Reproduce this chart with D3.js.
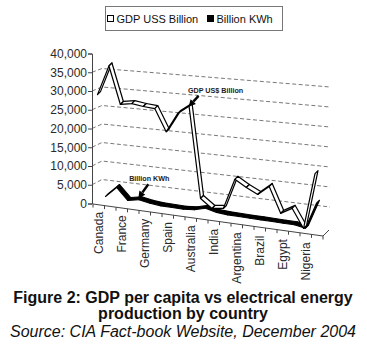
<!DOCTYPE html>
<html>
<head>
<meta charset="utf-8">
<script src="https://cdn.jsdelivr.net/npm/d3@7"></script>
<style>
  body { margin: 0; background: #fff; }
  svg { display: block; font-family: "Liberation Sans", Arial, sans-serif; }
</style>
</head>
<body>
<svg width="367" height="355"></svg>
<script>
// data (only every other country is labelled)
const countries = ["Canada", "United States", "France", "United Kingdom", "Germany", "Italy",
  "Spain", "Japan", "Australia", "China", "India", "Indonesia", "Argentina", "Mexico",
  "Brazil", "South Africa", "Egypt", "Iran", "Nigeria", "Korea"];
const gdp = [30000, 38000, 28100, 28700, 28300, 28100, 22300, 27500, 29800, 5600,
  3300, 3700, 11800, 10000, 8500, 11000, 4200, 5900, 900, 15900];
const kwh = [1070, 3890, 850, 1470, 960, 690, 670, 640, 910, 1760,
  1040, 830, 800, 770, 770, 750, 720, 720, 240, 7330];
const seriesNames = ["GDP USS Billion", "Billion KWh"];
const yTicks = d3.range(0, 40001, 5000);
const gridValues = d3.range(5000, 35001, 5000);

const svg = d3.select("svg");
svg.append("rect").attr("width", 367).attr("height", 355).attr("fill", "#fff");

const n = countries.length;

// value axis (left wall)
const y = d3.scaleLinear().domain([0, 40000]).range([203.5, 53.5]);
const h = (v) => y(0) - y(v);

// back wall gridlines, slanted
const tipY = d3.scaleLinear().domain([0, 40000]).range([198, 50]);
const rightY = d3.scaleLinear().domain([0, 40000]).range([227, 67]);

svg.append("g")
  .selectAll("path")
  .data(gridValues)
  .enter()
  .append("path")
  .attr("d", (d) => `M92,${y(d)}L102,${tipY(d)}L330,${rightY(d)}`)
  .attr("fill", "none")
  .attr("stroke", "#555")
  .attr("stroke-width", 0.8)
  .attr("stroke-dasharray", "4,2.5");

const yAxis = svg.append("g")
  .attr("transform", "translate(92,0)")
  .call(d3.axisLeft(y).tickValues(yTicks).tickFormat(d3.format(",")).tickSize(4).tickPadding(1));
yAxis.select(".domain").attr("stroke", "#444");
yAxis.selectAll("line").attr("stroke", "#444");
yAxis.selectAll("text")
  .attr("font-size", 12)
  .attr("font-family", "Liberation Sans, Arial, sans-serif")
  .attr("fill", "#2a2a2a");

// floor front edge (category axis)
const axX = d3.scaleLinear().domain([0, n]).range([93, 323]);
const axY = d3.scaleLinear().domain([0, n]).range([204, 236]);
const labTop = d3.scaleLinear().domain([0, n]).range([211, 245]);

svg.append("line")
  .attr("x1", axX(0)).attr("y1", axY(0))
  .attr("x2", axX(n)).attr("y2", axY(n))
  .attr("stroke", "#444").attr("stroke-width", 1);
svg.append("line")
  .attr("x1", axX(n)).attr("y1", axY(n))
  .attr("x2", axX(n) + 6).attr("y2", axY(n) - 6)
  .attr("stroke", "#444").attr("stroke-width", 1);

svg.append("g")
  .selectAll("line")
  .data(d3.range(0, n + 1))
  .enter()
  .append("line")
  .attr("x1", (d) => axX(d)).attr("y1", (d) => axY(d))
  .attr("x2", (d) => axX(d)).attr("y2", (d) => axY(d) + 3.5)
  .attr("stroke", "#444");

svg.append("g")
  .selectAll("text")
  .data(countries.map((c, i) => ({ c, i })).filter((d) => d.i % 2 === 0))
  .enter()
  .append("text")
  .attr("transform", (d) => `translate(${axX(d.i + 0.5) + 4.5},${labTop(d.i + 0.5)}) rotate(-90)`)
  .attr("text-anchor", "end")
  .attr("font-size", 12)
  .attr("fill", "#2a2a2a")
  .text((d) => d.c);

// series rows (GDP in front, KWh one row back)
const gdpX = d3.scaleLinear().domain([0, n - 1]).range([99, 316.5]);
const gdpBase = d3.scaleLinear().domain([0, n - 1]).range([205.6, 231.7]);
const kwhX = d3.scaleLinear().domain([0, n - 1]).range([107, 318]);
const kwhBase = d3.scaleLinear().domain([0, n - 1]).range([199, 229.2]);

const gdpPts = gdp.map((v, i) => [gdpX(i), gdpBase(i) - h(v)]);
const kwhPts = kwh.map((v, i) => [kwhX(i), kwhBase(i) - h(v)]);

const depth = [3, -3];
const line = d3.line();

function ribbon(points, fill, width) {
  svg.append("g")
    .selectAll("path")
    .data(d3.pairs(points))
    .enter()
    .append("path")
    .attr("d", ([a, b]) => {
      const a0 = [a[0] - depth[0] / 2, a[1] - depth[1] / 2];
      const b0 = [b[0] - depth[0] / 2, b[1] - depth[1] / 2];
      return line([a0, b0, [b0[0] + depth[0], b0[1] + depth[1]], [a0[0] + depth[0], a0[1] + depth[1]]]) + "Z";
    })
    .attr("fill", fill)
    .attr("stroke", "#000")
    .attr("stroke-width", width)
    .attr("stroke-linejoin", "round");
}

ribbon(kwhPts, "#000", 1.1);
ribbon(gdpPts, "#fff", 1.2);

// annotations with arrows
function arrow(x1, y1, x2, y2) {
  const ang = Math.atan2(y2 - y1, x2 - x1);
  const len = 7, hw = 3.6;
  const bx = x2 - len * Math.cos(ang), by = y2 - len * Math.sin(ang);
  svg.append("line")
    .attr("x1", x1).attr("y1", y1).attr("x2", bx).attr("y2", by)
    .attr("stroke", "#000").attr("stroke-width", 2.4);
  svg.append("path")
    .attr("d", line([
      [x2, y2],
      [bx + hw * Math.sin(ang), by - hw * Math.cos(ang)],
      [bx - hw * Math.sin(ang), by + hw * Math.cos(ang)]
    ]) + "Z")
    .attr("fill", "#000");
}

const pG = gdpPts[8];
arrow(pG[0] + 8, pG[1] - 9, pG[0] - 2, pG[1] + 2);
svg.append("text")
  .attr("x", pG[0] + 25).attr("y", pG[1] - 11.5)
  .attr("text-anchor", "middle")
  .attr("font-size", 7.2).attr("font-weight", "bold").attr("fill", "#222")
  .text("GDP US$ Billion");

const pK = kwhPts[3];
arrow(pK[0] + 8, pK[1] - 14, pK[0] - 2, pK[1]);
svg.append("text")
  .attr("x", pK[0] + 9).attr("y", pK[1] - 17.5)
  .attr("text-anchor", "middle")
  .attr("font-size", 7.2).attr("font-weight", "bold").attr("fill", "#222")
  .text("Billion KWh");

// legend
svg.append("rect")
  .attr("x", 105.5).attr("y", 6.5).attr("width", 177).attr("height", 24)
  .attr("fill", "#fff").attr("stroke", "#777");

const legend = svg.append("g")
  .selectAll("g")
  .data(seriesNames)
  .enter()
  .append("g")
  .attr("transform", (d, i) => `translate(${i === 0 ? 107.5 : 207.5}, 15.5)`);

legend.append("rect")
  .attr("width", 6).attr("height", 6)
  .attr("fill", (d, i) => (i === 0 ? "#fff" : "#000"))
  .attr("stroke", "#000");

legend.append("text")
  .text((d) => d)
  .attr("x", 9).attr("y", 7)
  .attr("font-size", 11)
  .attr("fill", "#111");

// caption
const caption = [
  { t: "Figure 2: GDP per capita vs electrical energy", y: 303, bold: true },
  { t: "production by country", y: 319, bold: true },
  { t: "Source: CIA Fact-book Website, December 2004", y: 336.5, bold: false }
];
svg.append("g")
  .selectAll("text")
  .data(caption)
  .enter()
  .append("text")
  .attr("x", 183).attr("y", (d) => d.y)
  .attr("text-anchor", "middle")
  .attr("font-size", 16)
  .attr("font-weight", (d) => (d.bold ? "bold" : "normal"))
  .attr("font-style", (d) => (d.bold ? "normal" : "italic"))
  .attr("fill", "#111")
  .text((d) => d.t);
</script>
</body>
</html>
